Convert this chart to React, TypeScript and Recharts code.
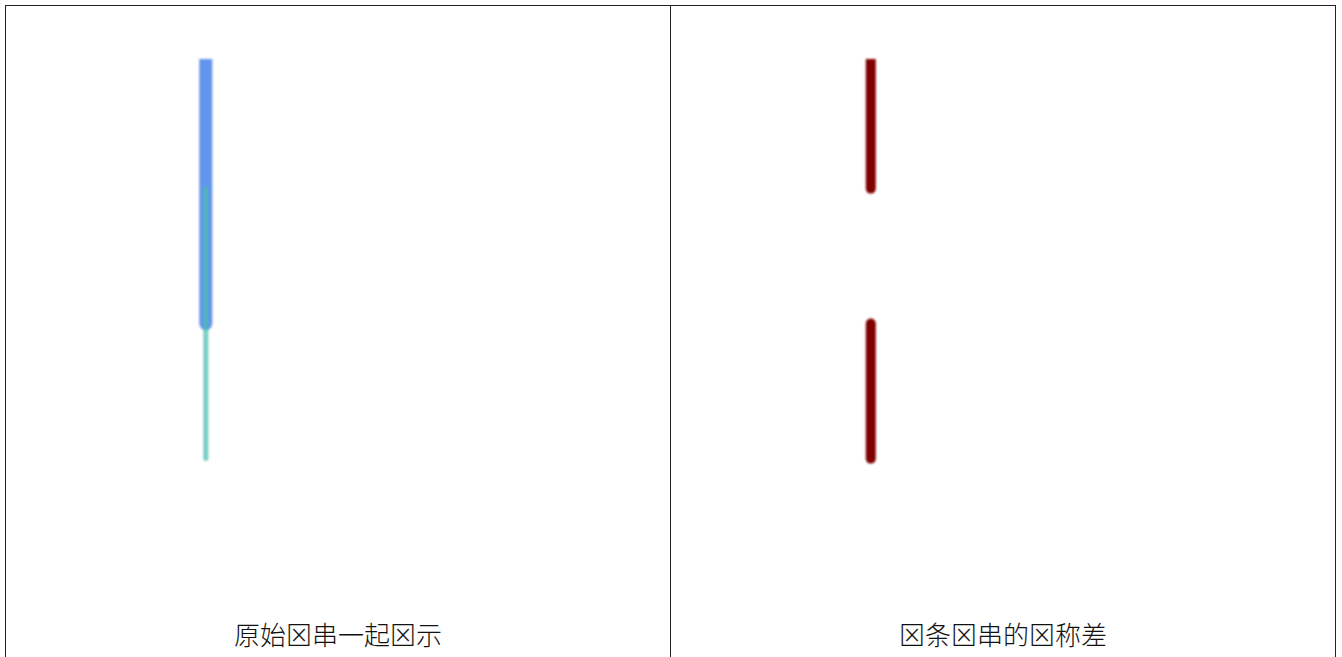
import React from 'react';
import { LineChart, Line, XAxis, YAxis } from 'recharts';

// 区间以纵向线段表示，0 在顶部
const TITLES = [
  ['原始', '⊠', '串一起', '⊠', '示'],
  ['⊠', '条', '⊠', '串的', '⊠', '称差'],
];
const LINE_X = 3;
const INTERVAL_A = [0, 4.9];
const INTERVAL_B = [2.4, 7.4];
const SYM_DIFF = [
  [0, 2.4],
  [4.9, 7.4],
];

const toPoints = (range: number[]) => range.map((y) => ({ x: LINE_X, y }));

const PANEL_W = 666;
const CHART_H = 600;

const Axes = () => (
  <>
    <XAxis type="number" dataKey="x" domain={[0, 10]} hide allowDataOverflow />
    <YAxis type="number" domain={[0, 10]} reversed hide allowDataOverflow width={0} />
  </>
);

const Panel: React.FC<{ left: number; title: string[]; children: React.ReactNode }> = ({ left, title, children }) => (
  <div
    style={{
      position: 'absolute',
      left,
      top: 5,
      width: PANEL_W,
      height: 700,
      borderLeft: '1px solid #222',
      borderTop: '1px solid #222',
      borderRight: '1px solid #222',
      boxSizing: 'border-box',
    }}
  >
    <div style={{ filter: 'blur(1px)' }}>{children}</div>
    <div
      style={{
        position: 'absolute',
        top: 609,
        width: '100%',
        textAlign: 'center',
        fontFamily: '"Noto Sans CJK SC", "DejaVu Sans", sans-serif',
        fontWeight: 300,
        fontSize: 26,
        color: '#111',
      }}
    >
      {title.map((p, i) => (
        <span key={i}>{p}</span>
      ))}
    </div>
  </div>
);

export default function App() {
  return (
    <div style={{ position: 'absolute', left: 0, top: 0, width: 1342, height: 657, background: '#fff', overflow: 'hidden' }}>
      <Panel left={5} title={TITLES[0]}>
        <LineChart width={PANEL_W} height={CHART_H} margin={{ top: 53, right: 0, bottom: 7, left: 0 }}>
          <Axes />
          <Line
            data={toPoints(INTERVAL_A)}
            dataKey="y"
            stroke="#6495ED"
            strokeWidth={13}
            strokeLinecap="round"
            dot={false}
            isAnimationActive={false}
          />
          <Line
            data={toPoints(INTERVAL_B)}
            dataKey="y"
            stroke="#4bbcaf"
            strokeOpacity={0.75}
            strokeWidth={5}
            strokeLinecap="round"
            dot={false}
            isAnimationActive={false}
          />
        </LineChart>
      </Panel>
      <Panel left={670} title={TITLES[1]}>
        <LineChart width={PANEL_W} height={CHART_H} margin={{ top: 53, right: 0, bottom: 7, left: 0 }}>
          <Axes />
          {SYM_DIFF.map((seg, i) => (
            <Line
              key={i}
              data={toPoints(seg)}
              dataKey="y"
              stroke="#800000"
              strokeWidth={10}
              strokeLinecap="round"
              dot={false}
              isAnimationActive={false}
            />
          ))}
        </LineChart>
      </Panel>
    </div>
  );
}
